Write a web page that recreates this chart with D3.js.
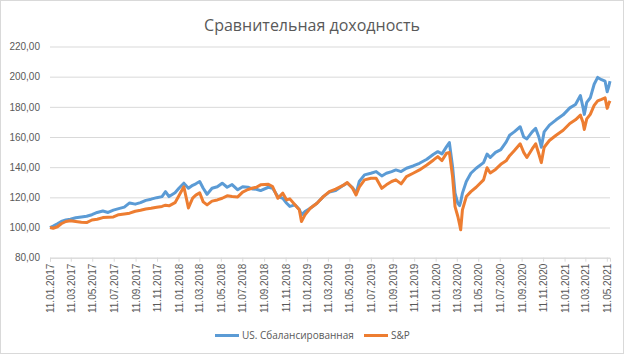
<!DOCTYPE html>
<html>
<head>
<meta charset="utf-8">
<script src="https://cdn.jsdelivr.net/npm/d3@7"></script>
<style>
  body { margin: 0; background: #fff; }
  svg { display: block; font-family: "Open Sans", sans-serif; }
</style>
</head>
<body>
<div id="chart"></div>
<script>
// --------------------------------------
//  Data
// --------------------------------------

const title = "Сравнительная доходность";
const seriesNames = ["US. Сбалансированная", "S&P"];

const dates = [
  "2017-01-11","2017-01-20","2017-02-01","2017-02-12","2017-02-25","2017-03-10","2017-03-25","2017-04-10",
  "2017-04-25","2017-05-10","2017-05-25","2017-06-10","2017-06-25","2017-07-10","2017-07-25","2017-08-10",
  "2017-08-25","2017-09-10","2017-09-25","2017-10-10","2017-10-25","2017-11-10","2017-11-25","2017-12-05",
  "2017-12-15","2018-01-01","2018-01-12","2018-01-26","2018-02-08","2018-02-20","2018-03-01","2018-03-12",
  "2018-03-22","2018-04-02","2018-04-16","2018-05-01","2018-05-15","2018-05-29","2018-06-12","2018-06-28",
  "2018-07-12","2018-07-27","2018-08-10","2018-08-20","2018-09-01","2018-09-23","2018-10-05","2018-10-20",
  "2018-11-03","2018-11-14","2018-11-23","2018-12-08","2018-12-20","2018-12-26","2019-01-05","2019-01-20",
  "2019-02-08","2019-02-26","2019-03-15","2019-04-02","2019-04-26","2019-05-05","2019-05-20","2019-05-30",
  "2019-06-08","2019-06-23","2019-07-11","2019-07-26","2019-08-11","2019-08-24","2019-09-08","2019-09-20",
  "2019-10-05","2019-10-20","2019-11-08","2019-11-26","2019-12-17","2020-01-05","2020-01-17","2020-01-29",
  "2020-02-11","2020-02-19","2020-02-28","2020-03-06","2020-03-14","2020-03-19","2020-03-22","2020-03-27",
  "2020-04-07","2020-04-20","2020-05-05","2020-05-26","2020-06-05","2020-06-14","2020-06-29","2020-07-14",
  "2020-07-29","2020-08-08","2020-08-21","2020-09-07","2020-09-17","2020-09-26","2020-10-11","2020-10-21",
  "2020-10-30","2020-11-06","2020-11-14","2020-11-29","2020-12-18","2021-01-07","2021-01-26","2021-02-11",
  "2021-02-25","2021-03-04","2021-03-08","2021-03-15","2021-03-25","2021-04-05","2021-04-15","2021-04-26",
  "2021-05-06","2021-05-12","2021-05-17","2021-05-20"
];

const balanced = [
  100, 101, 102.5, 104, 105, 105.5, 106.5, 107,
  107.5, 108.5, 110, 111, 110, 111.5, 112.5, 113.5,
  116.3, 115.5, 116.5, 118, 118.8, 119.8, 120.5, 123.8,
  120.5, 123, 126, 129.4, 126, 128, 129, 130.5,
  126, 122, 126, 127, 129.4, 126.7, 128.5, 125,
  127, 126.7, 125.5, 125.4, 124.5, 126.7, 126, 120.5,
  119.4, 116.1, 114, 115, 112, 108.4, 110.6, 112.8,
  116.1, 120.5, 123.5, 124.5, 128.3, 129.5, 126.5, 122.5,
  130.5, 134.9, 136, 137.1, 134.2, 136, 137.1, 138.2,
  137.1, 139.3, 140.8, 142.6, 145.3, 148.6, 150.3, 148.8,
  153.6, 156.3, 140.4, 122.8, 116, 114.5, 117, 122.8,
  130.5, 136, 139.3, 143, 148.7, 146.4, 149.8, 151.6,
  156.6, 161.2, 163.4, 166.8, 160, 158.8, 163.4, 165.7,
  160, 153.2, 163.4, 167.9, 171.4, 174.7, 179.3, 181.6,
  187.5, 180, 175, 183, 186, 195, 199.5, 198,
  197, 190, 194, 197
];

const sp = [
  100, 99.5, 100.5, 102.5, 104, 104.5, 104, 103.5,
  103.3, 105, 105.5, 106.6, 106.8, 107, 108.5, 109,
  109.5, 110.8, 111.5, 112.3, 112.8, 113.5, 114, 114.8,
  114.4, 116.5, 121, 127, 113, 119.5, 121.5, 123,
  117, 115, 117.5, 118.3, 119.4, 121, 120.5, 120.3,
  123.5, 125.2, 126.2, 126.7, 128.3, 128.7, 127.2, 119.4,
  122.8, 118.3, 119, 115, 111.7, 104, 108.4, 112.8,
  116.1, 120.5, 123.8, 125.5, 128.3, 129.8, 126, 121.6,
  126.7, 131.6, 132.7, 132.7, 126, 128.3, 130.5, 131.6,
  128.9, 133.8, 136, 138.2, 141.5, 144.8, 147, 144.4,
  149.3, 149.7, 133.8, 113.9, 107.3, 102, 98.5, 111.7,
  120.5, 123.8, 126.7, 131.6, 139.6, 136.2, 138.5, 141.9,
  144.2, 147.6, 150.9, 155.5, 149.8, 146.4, 152.1, 155.5,
  148.7, 143, 153.2, 157.7, 161.2, 164.5, 169, 171.4,
  174.5, 170, 165, 172, 175, 181, 184, 185,
  186, 179, 182.5, 184
];

const xTickLabels = [
  "11.01.2017","11.03.2017","11.05.2017","11.07.2017","11.09.2017","11.11.2017",
  "11.01.2018","11.03.2018","11.05.2018","11.07.2018","11.09.2018","11.11.2018",
  "11.01.2019","11.03.2019","11.05.2019","11.07.2019","11.09.2019","11.11.2019",
  "11.01.2020","11.03.2020","11.05.2020","11.07.2020","11.09.2020","11.11.2020",
  "11.01.2021","11.03.2021","11.05.2021"
];

const yTicks = [80, 100, 120, 140, 160, 180, 200, 220];

// --------------------------------------
//  Margin and canvas
// --------------------------------------

const width = 624;
const height = 354;
const plot = {left: 50, right: 610, top: 46.5, bottom: 257.7};
const colors = ["#5B9BD5", "#ED7D31"];
const textColor = "#595959";
const gridColor = "#d9d9d9";

const svg = d3.select("#chart")
  .append("svg")
    .attr("width", width)
    .attr("height", height)
    .attr("viewBox", `0 0 ${width} ${height}`);

svg.append("rect")
  .attr("x", 0.5).attr("y", 0.5)
  .attr("width", width - 1).attr("height", height - 1)
  .attr("fill", "#fff")
  .attr("stroke", gridColor);

// --------------------------------------
//  Scales
// --------------------------------------

const parseDate = d3.utcParse("%Y-%m-%d");
const parseTick = d3.utcParse("%d.%m.%Y");
const dateValues = dates.map(parseDate);

const x = d3.scaleUtc()
  .domain(d3.extent(dateValues))
  .range([plot.left, plot.right]);

const y = d3.scaleLinear()
  .domain([80, 220])
  .range([plot.bottom, plot.top]);

const ruFormat = d3.formatLocale({decimal: ",", thousands: " ", grouping: [3], currency: ["", ""]}).format(".2f");

// --------------------------------------
//  Axes
// --------------------------------------

const yAxis = svg.append("g")
  .attr("transform", `translate(${plot.left}, 0)`)
  .call(d3.axisLeft(y)
    .tickValues(yTicks)
    .tickFormat(ruFormat)
    .tickSize(-(plot.right - plot.left))
    .tickPadding(10));

yAxis.select(".domain").remove();
yAxis.selectAll(".tick line")
  .attr("stroke", gridColor)
  .attr("stroke-width", 1);
yAxis.selectAll(".tick text")
  .attr("fill", textColor)
  .attr("font-size", 10);

const xAxis = svg.append("g")
  .attr("transform", `translate(0, ${y(80)})`)
  .call(d3.axisBottom(x)
    .tickValues(xTickLabels.map(parseTick))
    .tickFormat((d, i) => xTickLabels[i])
    .tickSizeOuter(0)
    .tickSize(4));

xAxis.select(".domain").attr("stroke", gridColor);
xAxis.selectAll(".tick line").attr("stroke", gridColor);
xAxis.selectAll(".tick text")
  .attr("fill", textColor)
  .attr("font-size", 10)
  .attr("text-anchor", "end")
  .attr("transform", "rotate(-90)")
  .attr("x", -6)
  .attr("y", 0)
  .attr("dy", "0.35em");

// --------------------------------------
//  Lines
// --------------------------------------

const line = d3.line()
  .x((d, i) => x(dateValues[i]))
  .y(d => y(d));

[balanced, sp].forEach((values, i) => {
  svg.append("path")
    .attr("d", line(values))
    .attr("fill", "none")
    .attr("stroke", colors[i])
    .attr("stroke-width", 3)
    .attr("stroke-linejoin", "round");
});

// --------------------------------------
//  Title and legend
// --------------------------------------

svg.append("text")
  .attr("x", width / 2)
  .attr("y", 31)
  .attr("text-anchor", "middle")
  .attr("fill", textColor)
  .attr("font-size", 16)
  .text(title);

const legendX = [215, 364];
const legend = svg.append("g")
  .attr("transform", "translate(0, 335.5)");

seriesNames.forEach((name, i) => {
  legend.append("line")
    .attr("x1", legendX[i]).attr("x2", legendX[i] + 24)
    .attr("stroke", colors[i])
    .attr("stroke-width", 3);
  legend.append("text")
    .attr("x", legendX[i] + 27)
    .attr("dy", "0.35em")
    .attr("fill", textColor)
    .attr("font-size", 10)
    .text(name);
});
</script>
</body>
</html>
